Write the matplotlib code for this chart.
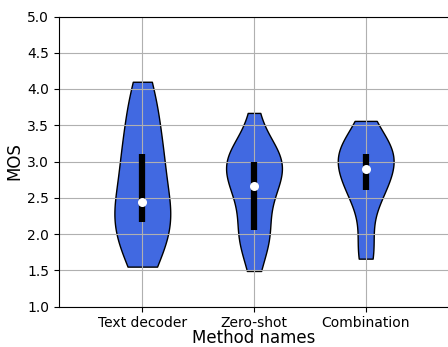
import numpy as np
import matplotlib
matplotlib.use("Agg")
import matplotlib.pyplot as plt

methods = ["Text decoder", "Zero-shot", "Combination"]

text_decoder = [1.55, 1.78, 1.79, 1.84, 2.12, 2.18, 2.18, 2.41, 2.41, 2.41,
                2.48, 2.93, 3.01, 3.03, 3.04, 3.30, 3.58, 3.72, 3.82, 4.10]
zero_shot = [1.49, 1.76, 2.00, 2.00, 2.05, 2.05, 2.58, 2.58, 2.58, 2.58,
             2.75, 3.00, 3.00, 3.00, 3.00, 3.00, 3.07, 3.08, 3.29, 3.67]
combination = [1.66, 1.70, 1.93, 2.26, 2.60, 2.61, 2.61, 2.61, 2.81, 2.87,
               2.91, 3.10, 3.10, 3.10, 3.10, 3.10, 3.14, 3.32, 3.32, 3.56]

yticks = [1.0, 1.5, 2.0, 2.5, 3.0, 3.5, 4.0, 4.5, 5.0]

data = [text_decoder, zero_shot, combination]
positions = [1, 2, 3]

fig = plt.figure(figsize=(4.48, 3.47), dpi=100)
ax = fig.add_axes([59 / 448, 40.5 / 347, 390 / 448, 290 / 347])

parts = ax.violinplot(data, positions=positions, widths=0.5,
                      showmeans=False, showmedians=False, showextrema=False)
for pc in parts["bodies"]:
    pc.set_facecolor("royalblue")
    pc.set_edgecolor("black")
    pc.set_linewidth(1.0)
    pc.set_alpha(1)

q1, med, q3 = np.percentile(np.array(data), [25, 50, 75], axis=1)
ax.vlines(positions, q1, q3, color="k", linestyle="-", lw=4.5, zorder=2)
ax.scatter(positions, med, marker="o", color="white", s=30, zorder=3)

ax.set_xticks(positions)
ax.set_xticklabels(methods, fontsize=10)
ax.set_yticks(yticks)
ax.set_yticklabels([f"{v:.1f}" for v in yticks], fontsize=10)
ax.set_ylim(1.0, 5.0)
ax.set_xlim(0.254, 3.746)
ax.grid(True)
ax.set_xlabel("Method names", fontsize=12, labelpad=-1)
ax.set_ylabel("MOS", fontsize=12, labelpad=2.5)

fig.savefig("out.png", dpi=100)
